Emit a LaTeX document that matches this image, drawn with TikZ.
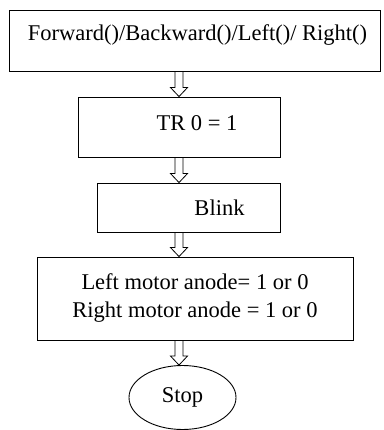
\documentclass[tikz,border=0pt]{standalone}
\usepackage{fontspec}
\setmainfont{Liberation Serif}
\usetikzlibrary{calc,shapes.geometric}
\begin{document}
\begin{tikzpicture}[x=1pt, y=-1pt, font=\fontsize{22.5}{28}\selectfont,
  block/.style={rectangle, draw, line width=0.9pt, inner sep=0pt},
  hollowarrow/.style={line width=0.8pt, to path={
    ($(\tikztostart)+(-4pt,0pt)$) -- ($(\tikztotarget)+(-4pt,9pt)$)
    -- ($(\tikztotarget)+(-8.5pt,9pt)$) -- (\tikztotarget)
    -- ($(\tikztotarget)+(8.5pt,9pt)$) -- ($(\tikztotarget)+(4pt,9pt)$)
    -- ($(\tikztostart)+(4pt,0pt)$)}}]
\useasboundingbox (0,0) rectangle (383,430);
\path (194.5, 40.5) node[block, minimum width=371pt, minimum height=61pt,
  label={[xshift=3pt, yshift=5pt]center:Forward()/Backward()/Left()/ Right()}] (forward) {};
\path (179, 127) node[block, minimum width=202pt, minimum height=60pt,
  label={[xshift=18pt, yshift=4pt]center:TR 0 = 1}] (tr) {};
\path (188.5, 207.5) node[block, minimum width=183pt, minimum height=49pt,
  label={[xshift=31pt]center:Blink}] (blink) {};
\path (195, 298.5) node[block, minimum width=316pt, minimum height=83pt, align=center]
  (motor) {Left motor anode= 1 or 0\\ Right motor anode = 1 or 0};
\path (182.5, 397.5) node[ellipse, draw, line width=0.9pt, inner sep=0pt,
  minimum width=107pt, minimum height=64pt] (stop) {Stop};
\draw[hollowarrow] (forward.south -| tr.north) to (tr.north);
\draw[hollowarrow] (tr.south) to (blink.north -| tr.south);
\draw[hollowarrow] (blink.south -| tr.south) to (motor.north -| tr.south);
\draw[hollowarrow] (motor.south -| tr.south) to (stop.north -| tr.south);
\end{tikzpicture}
\end{document}
